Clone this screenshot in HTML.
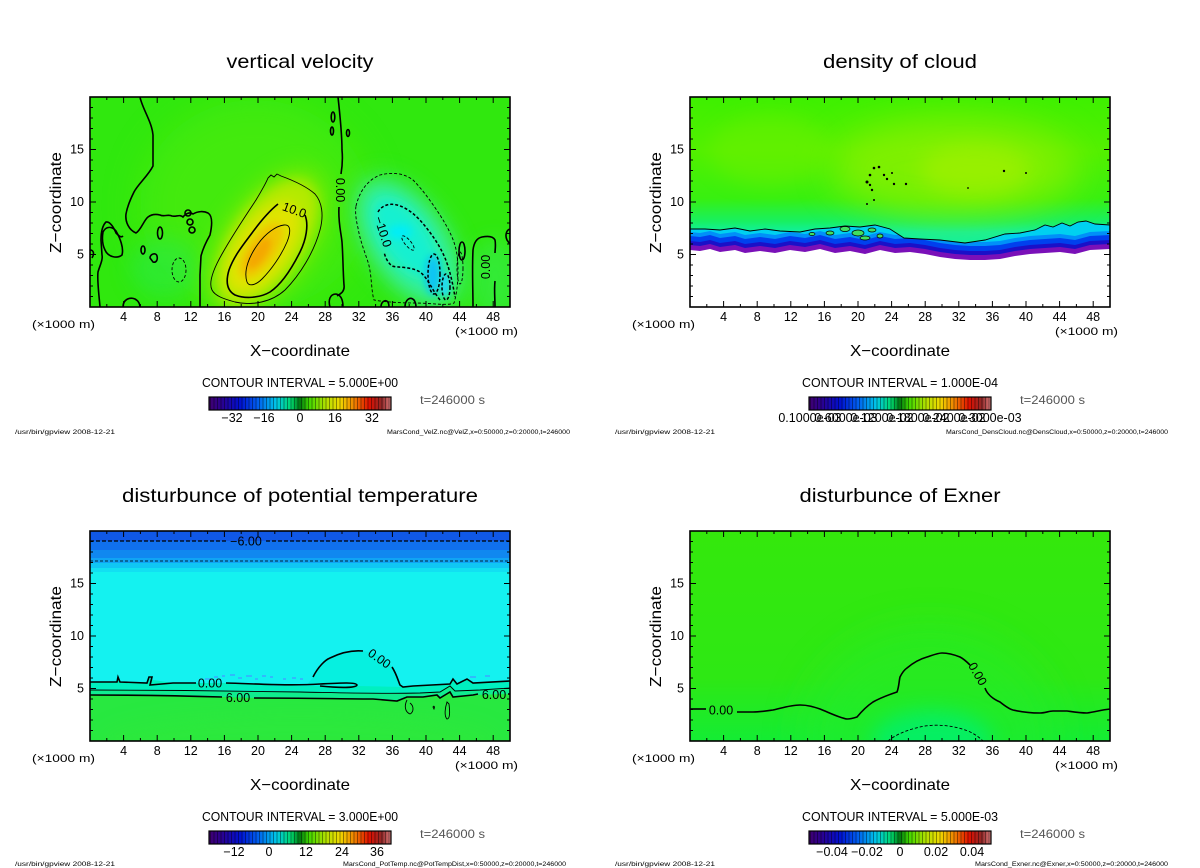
<!DOCTYPE html>
<html><head><meta charset="utf-8"><style>
html,body{margin:0;padding:0;background:#fff;}
svg{display:block;}
text{font-family:"Liberation Sans",sans-serif;fill:#000;}
</style></head><body>
<svg width="1200" height="868" viewBox="0 0 1200 868" xmlns="http://www.w3.org/2000/svg">
<defs>
<linearGradient id="cb" x1="0" x2="1" y1="0" y2="0">
 <stop offset="0" stop-color="#400070"/>
 <stop offset="0.07" stop-color="#2a0090"/>
 <stop offset="0.17" stop-color="#0010d0"/>
 <stop offset="0.27" stop-color="#0060f0"/>
 <stop offset="0.37" stop-color="#00c8e8"/>
 <stop offset="0.45" stop-color="#00d870"/>
 <stop offset="0.5" stop-color="#007a10"/>
 <stop offset="0.55" stop-color="#40d800"/>
 <stop offset="0.64" stop-color="#b0e000"/>
 <stop offset="0.72" stop-color="#f0d800"/>
 <stop offset="0.8" stop-color="#f08000"/>
 <stop offset="0.88" stop-color="#e01000"/>
 <stop offset="0.95" stop-color="#902828"/>
 <stop offset="1" stop-color="#e08080"/>
</linearGradient>
<pattern id="st" x="0" y="0" width="3.5" height="20" patternUnits="userSpaceOnUse">
 <rect x="0" y="0" width="1" height="20" fill="#000" fill-opacity="0.4"/>
</pattern>
<linearGradient id="g2" gradientUnits="userSpaceOnUse" x1="0" y1="97" x2="0" y2="232">
 <stop offset="0" stop-color="#3ef000"/>
 <stop offset="0.4" stop-color="#52f000"/>
 <stop offset="0.75" stop-color="#38f010"/>
 <stop offset="0.92" stop-color="#18f060"/>
 <stop offset="1" stop-color="#10f0a0"/>
</linearGradient>
<linearGradient id="g4" gradientUnits="userSpaceOnUse" x1="0" y1="531" x2="0" y2="741">
 <stop offset="0" stop-color="#34e80c"/>
 <stop offset="0.7" stop-color="#2ee814"/>
 <stop offset="1" stop-color="#14ec34"/>
</linearGradient>
<filter id="f3" x="-50%" y="-50%" width="200%" height="200%"><feGaussianBlur stdDeviation="3"/></filter>
<filter id="f4" x="-50%" y="-50%" width="200%" height="200%"><feGaussianBlur stdDeviation="4"/></filter>
<filter id="f6" x="-50%" y="-50%" width="200%" height="200%"><feGaussianBlur stdDeviation="6"/></filter>
<filter id="f8" x="-50%" y="-50%" width="200%" height="200%"><feGaussianBlur stdDeviation="8"/></filter>
<filter id="f10" x="-50%" y="-50%" width="200%" height="200%"><feGaussianBlur stdDeviation="10"/></filter>
<filter id="f18" x="-50%" y="-50%" width="200%" height="200%"><feGaussianBlur stdDeviation="18"/></filter>
<clipPath id="c1"><rect x="90" y="97" width="420" height="210"/></clipPath>
<clipPath id="c2"><rect x="690" y="97" width="420" height="210"/></clipPath>
<clipPath id="c3"><rect x="90" y="531" width="420" height="210"/></clipPath>
<clipPath id="c4"><rect x="690" y="531" width="420" height="210"/></clipPath>
<clipPath id="c2g"><polygon points="690,97 1110,97 1110,225 1095,224 1086,221 1078,222 1070,226 1062,223 1053,227 1045,225 1035,230 1020,233 1005,234 985,240 965,243 940,240 920,239 904,238 890,229 875,225 860,227 845,226 830,228 815,229 800,232 780,231 765,229 750,231 735,228 720,230 705,229 690,229"/></clipPath>

<g id="ax">
<path fill="none" stroke="#000" stroke-width="1" d="M106.8 97v3M140.4 97v3M174 97v3M207.6 97v3M241.2 97v3M274.8 97v3M308.4 97v3M342 97v3M375.6 97v3M409.2 97v3M442.8 97v3M476.4 97v3M123.6 97v6M157.2 97v6M190.8 97v6M224.4 97v6M258 97v6M291.6 97v6M325.2 97v6M358.8 97v6M392.4 97v6M426 97v6M459.6 97v6M493.2 97v6M106.8 307v-3M140.4 307v-3M174 307v-3M207.6 307v-3M241.2 307v-3M274.8 307v-3M308.4 307v-3M342 307v-3M375.6 307v-3M409.2 307v-3M442.8 307v-3M476.4 307v-3M123.6 307v-6M157.2 307v-6M190.8 307v-6M224.4 307v-6M258 307v-6M291.6 307v-6M325.2 307v-6M358.8 307v-6M392.4 307v-6M426 307v-6M459.6 307v-6M493.2 307v-6M90 296.5h3M90 286h3M90 275.5h3M90 265h3M90 244h3M90 233.5h3M90 223h3M90 212.5h3M90 191.5h3M90 181h3M90 170.5h3M90 160h3M90 139h3M90 128.5h3M90 118h3M90 107.5h3M90 254.5h6M90 202h6M90 149.5h6M510 296.5h-3M510 286h-3M510 275.5h-3M510 265h-3M510 244h-3M510 233.5h-3M510 223h-3M510 212.5h-3M510 191.5h-3M510 181h-3M510 170.5h-3M510 160h-3M510 139h-3M510 128.5h-3M510 118h-3M510 107.5h-3M510 254.5h-6M510 202h-6M510 149.5h-6"/>
<rect x="90" y="97" width="420" height="210" fill="none" stroke="#000" stroke-width="1.6"/>
<g font-size="12.5" text-anchor="end"><text x="84" y="258.5">5</text><text x="84" y="206">10</text><text x="84" y="153.5">15</text></g>
<g font-size="12.5" text-anchor="middle">
<text x="123.6" y="321">4</text><text x="157.2" y="321">8</text><text x="190.8" y="321">12</text><text x="224.4" y="321">16</text><text x="258" y="321">20</text><text x="291.6" y="321">24</text><text x="325.2" y="321">28</text><text x="358.8" y="321">32</text><text x="392.4" y="321">36</text><text x="426" y="321">40</text><text x="459.6" y="321">44</text><text x="493.2" y="321">48</text>
</g>
<text x="32" y="328" font-size="11" textLength="63" lengthAdjust="spacingAndGlyphs">(×1000 m)</text>
<text x="455" y="335" font-size="11" textLength="63" lengthAdjust="spacingAndGlyphs">(×1000 m)</text>
<text x="300" y="356" font-size="16" text-anchor="middle" textLength="100" lengthAdjust="spacingAndGlyphs">X−coordinate</text>
<text transform="translate(61,202.5) rotate(-90)" font-size="16" text-anchor="middle" textLength="101" lengthAdjust="spacingAndGlyphs">Z−coordinate</text>
<text x="420" y="404" font-size="12" fill="#555" style="fill:#555" textLength="65" lengthAdjust="spacingAndGlyphs">t=246000 s</text>
<rect x="209" y="397" width="182" height="13" fill="url(#cb)"/>
<rect x="209" y="397" width="182" height="13" fill="url(#st)"/>
<rect x="209" y="397" width="182" height="13" fill="none" stroke="#000" stroke-width="1.2"/>
</g>
</defs>

<!-- ========== PANEL 1: vertical velocity ========== -->
<g clip-path="url(#c1)">
<rect x="90" y="97" width="420" height="210" fill="#30e80e"/>
<ellipse cx="255" cy="205" rx="115" ry="105" fill="#52ec0c" opacity="0.55" filter="url(#f18)"/>
<ellipse cx="165" cy="268" rx="35" ry="30" fill="#28ea50" opacity="0.5" filter="url(#f10)"/>
<ellipse cx="495" cy="280" rx="25" ry="40" fill="#36ec50" opacity="0.6" filter="url(#f10)"/>
<g transform="translate(267,242) rotate(35)">
<ellipse rx="46" ry="86" fill="#7aec04" opacity="0.8" filter="url(#f10)"/>
<ellipse rx="36" ry="72" fill="#b4ea00" filter="url(#f6)"/>
<ellipse cy="6" rx="25" ry="52" fill="#e0e400" filter="url(#f6)"/>
<ellipse cy="10" rx="14" ry="32" fill="#f0c400" filter="url(#f4)"/>
<ellipse cy="14" rx="7" ry="18" fill="#f4a800" filter="url(#f3)"/>
</g>
<g transform="translate(408,242) rotate(-35)">
<ellipse rx="44" ry="78" fill="#3aec70" opacity="0.7" filter="url(#f10)"/>
<ellipse rx="34" ry="66" fill="#30f0a0" filter="url(#f8)"/>
<ellipse cy="-5" rx="22" ry="46" fill="#18f0d0" filter="url(#f6)"/>
</g>
<ellipse cx="400" cy="232" rx="12" ry="7" fill="#00eef8" filter="url(#f4)"/>
<ellipse cx="433" cy="275" rx="8" ry="20" fill="#10c4f4" filter="url(#f4)"/>
<ellipse cx="445" cy="285" rx="5" ry="12" fill="#20d8f0" filter="url(#f3)"/>
<!-- contours -->
<g fill="none" stroke="#000" stroke-width="1.6">
<path d="M140,97 C142,108 152,122 153,135 L153,166 C148,176 138,184 134,192 C130,200 127,208 126,214 C125,222 129,230 136,233 C141,230 144,220 148,217 C152,214 156,214 160,215 C164,217 168,214 172,216 C176,217 180,214 183,217 C186,213 190,212 193,214 C198,211 204,211 208,213 C213,216 212,226 210,235 C206,242 203,248 201,256 L200,275 L200,307"/>
<path d="M100,307 C99,295 97,280 98,272 C100,265 103,260 102,255 L101,240 C101,232 102,226 106,222 C110,221 114,228 116,233 C119,236 121,238 123,236"/>
<path d="M103,232 C106,226 112,226 116,231 C120,238 124,248 122,255 C117,259 108,257 105,250 C102,244 102,238 103,232Z"/>
<path d="M90,250 C93,250 95,253 92,258"/>
<path d="M123,307 C123,299 130,297 135,299 C139,301 140,305 140,307"/>
<ellipse cx="160" cy="233" rx="2.5" ry="6"/>
<path d="M150,258 C150,254 156,252 157,256 C158,260 156,263 153,262Z"/>
<ellipse cx="143" cy="250" rx="2" ry="4"/>
<ellipse cx="188" cy="213" rx="3" ry="3"/>
<ellipse cx="190" cy="222" rx="3" ry="3"/>
<ellipse cx="192" cy="230" rx="3" ry="3"/>
<path d="M338,97 C340,115 342,135 342,150 C343,160 342,168 341,174"/>
<path d="M339,207 C338,222 341,232 342,242 C343,255 343,272 344,285 C345,292 340,294 337,296"/>
<path d="M330,307 C328,300 330,294 336,294 C341,295 343,300 343,307"/>
<ellipse cx="333" cy="117" rx="1.8" ry="5"/>
<ellipse cx="332" cy="131" rx="1.5" ry="4"/>
<ellipse cx="348" cy="133" rx="1.5" ry="3.5"/>
<path d="M473,307 C473,290 472,270 473,250 C474,242 477,238 482,237 C487,236 493,236 495,240 C496,245 495,250 495,253"/>
<path d="M495,281 C494,290 495,298 495,307"/>
<path d="M510,229 C506,230 505,236 507,240 C509,243 510,244 510,244"/>
<ellipse cx="462" cy="251" rx="3" ry="9"/>
<path d="M381,307 C381,302 385,299 388,302 C389,304 389,306 389,307"/>
<path d="M405,307 C405,300 410,296 414,300 C416,303 416,306 416,307"/>
<path d="M305,215 C309,225 306,240 300,252 C292,268 282,284 270,292 C260,298 245,299 235,295 C226,290 226,280 229,270 C234,256 243,245 252,233 C260,222 268,212 278,204"/>
</g>
<g fill="none" stroke="#000" stroke-width="0.9">
<path d="M212,290 C208,282 214,268 222,254 C232,236 244,218 256,200 C262,190 266,183 268,178 L271,175 L274,177 L277,174 L281,176 C292,180 306,186 315,194 C322,202 324,215 320,230 C314,252 300,275 285,290 C272,302 252,306 235,302 C224,299 215,296 212,290Z"/>
<path d="M247,282 C243,270 250,255 258,244 C266,233 276,226 284,225 C291,224 291,232 287,242 C281,256 271,270 262,279 C256,285 249,287 247,282Z"/>
</g>
<g fill="none" stroke="#000" stroke-width="0.9" stroke-dasharray="3,2">
<path d="M356,206 C360,190 368,180 380,175 C392,172 404,173 413,180 C423,190 432,203 440,215 C448,228 455,240 457,255 C459,270 458,290 454,303 C448,306 430,303 415,303 C400,303 385,302 374,300 C371,290 372,275 368,262 C364,250 360,240 358,228 C356,220 355,212 356,206Z"/>
<ellipse cx="179" cy="270" rx="7" ry="12"/>
<ellipse cx="408" cy="243" rx="3" ry="9" transform="rotate(-40 408 243)"/>
<ellipse cx="460" cy="268" rx="3" ry="16"/>
</g>
<g fill="none" stroke="#000" stroke-width="1.5" stroke-dasharray="3,2">
<path d="M378,212 C382,205 390,203 397,205 C408,208 417,216 425,226 C433,236 440,246 445,258 C450,270 453,285 455,297"/>
<path d="M440,300 C432,290 428,278 420,272 C410,266 398,268 392,266 C387,262 385,256 384,252"/>
<ellipse cx="434" cy="274" rx="6" ry="20"/>
<ellipse cx="446" cy="287" rx="4" ry="13"/>
</g>
</g>
<g font-size="12.5">
<text transform="translate(293,214) rotate(20)" text-anchor="middle">10.0</text>
<text transform="translate(336,190) rotate(90)" text-anchor="middle">0.00</text>
<text transform="translate(490,267) rotate(-90)" text-anchor="middle">0.00</text>
<text transform="translate(379,233) rotate(72)" text-anchor="middle">−10.0</text>
</g>
<use href="#ax"/>
<text x="300" y="68" font-size="19" text-anchor="middle" textLength="147" lengthAdjust="spacingAndGlyphs">vertical velocity</text>
<text x="300" y="387" font-size="12.5" text-anchor="middle" textLength="196" lengthAdjust="spacingAndGlyphs">CONTOUR INTERVAL = 5.000E+00</text>
<g font-size="12.5" text-anchor="middle">
<text x="232" y="422">−32</text><text x="264" y="422">−16</text><text x="300" y="422">0</text><text x="335" y="422">16</text><text x="372" y="422">32</text>
</g>
<text x="15" y="434" font-size="6.5" textLength="100" lengthAdjust="spacingAndGlyphs">/usr/bin/gpview   2008-12-21</text>
<text x="570" y="434" font-size="6.5" text-anchor="end" textLength="183" lengthAdjust="spacingAndGlyphs">MarsCond_VelZ.nc@VelZ,x=0:50000,z=0:20000,t=246000</text>

<!-- ========== PANEL 2: density of cloud ========== -->
<g clip-path="url(#c2)">
<rect x="690" y="97" width="420" height="210" fill="#fff"/>
<g>
<polygon fill="#7a10b8" points="690,229 705,229 720,230 735,228 750,231 765,229 780,231 800,232 815,229 830,228 845,226 860,227 875,225 890,229 904,238 920,239 940,240 965,243 985,240 1005,234 1020,233 1035,230 1045,225 1053,227 1062,223 1070,226 1078,222 1086,221 1095,224 1110,225 1110,249 1090,250 1075,254 1060,252 1045,253 1030,254 1015,256 1000,259 985,260 970,260 955,259 940,257 925,254 910,252 895,253 880,250 865,254 850,251 835,253 820,249 805,252 790,250 775,253 760,251 745,253 735,250 720,252 710,249 700,251 690,250"/>
<polygon fill="#1a10c8" transform="translate(0,-5)" points="690,229 705,229 720,230 735,228 750,231 765,229 780,231 800,232 815,229 830,228 845,226 860,227 875,225 890,229 904,238 920,239 940,240 965,243 985,240 1005,234 1020,233 1035,230 1045,225 1053,227 1062,223 1070,226 1078,222 1086,221 1095,224 1110,225 1110,249 1090,250 1075,254 1060,252 1045,253 1030,254 1015,256 1000,259 985,260 970,260 955,259 940,257 925,254 910,252 895,253 880,250 865,254 850,251 835,253 820,249 805,252 790,250 775,253 760,251 745,253 735,250 720,252 710,249 700,251 690,250"/>
<polygon fill="#0040ee" transform="translate(0,-9)" points="690,229 705,229 720,230 735,228 750,231 765,229 780,231 800,232 815,229 830,228 845,226 860,227 875,225 890,229 904,238 920,239 940,240 965,243 985,240 1005,234 1020,233 1035,230 1045,225 1053,227 1062,223 1070,226 1078,222 1086,221 1095,224 1110,225 1110,249 1090,250 1075,254 1060,252 1045,253 1030,254 1015,256 1000,259 985,260 970,260 955,259 940,257 925,254 910,252 895,253 880,250 865,254 850,251 835,253 820,249 805,252 790,250 775,253 760,251 745,253 735,250 720,252 710,249 700,251 690,250"/>
<polygon fill="#0090f8" transform="translate(0,-14)" points="690,229 705,229 720,230 735,228 750,231 765,229 780,231 800,232 815,229 830,228 845,226 860,227 875,225 890,229 904,238 920,239 940,240 965,243 985,240 1005,234 1020,233 1035,230 1045,225 1053,227 1062,223 1070,226 1078,222 1086,221 1095,224 1110,225 1110,249 1090,250 1075,254 1060,252 1045,253 1030,254 1015,256 1000,259 985,260 970,260 955,259 940,257 925,254 910,252 895,253 880,250 865,254 850,251 835,253 820,249 805,252 790,250 775,253 760,251 745,253 735,250 720,252 710,249 700,251 690,250"/>
<polygon fill="#00d0f0" transform="translate(0,-18)" points="690,229 705,229 720,230 735,228 750,231 765,229 780,231 800,232 815,229 830,228 845,226 860,227 875,225 890,229 904,238 920,239 940,240 965,243 985,240 1005,234 1020,233 1035,230 1045,225 1053,227 1062,223 1070,226 1078,222 1086,221 1095,224 1110,225 1110,249 1090,250 1075,254 1060,252 1045,253 1030,254 1015,256 1000,259 985,260 970,260 955,259 940,257 925,254 910,252 895,253 880,250 865,254 850,251 835,253 820,249 805,252 790,250 775,253 760,251 745,253 735,250 720,252 710,249 700,251 690,250"/>
</g>
<polygon fill="url(#g2)" points="690,97 1110,97 1110,225 1095,224 1086,221 1078,222 1070,226 1062,223 1053,227 1045,225 1035,230 1020,233 1005,234 985,240 965,243 940,240 920,239 904,238 890,229 875,225 860,227 845,226 830,228 815,229 800,232 780,231 765,229 750,231 735,228 720,230 705,229 690,229"/>
<g clip-path="url(#c2g)">
<ellipse cx="955" cy="168" rx="125" ry="50" fill="#90f000" opacity="0.75" filter="url(#f18)"/>
<ellipse cx="975" cy="170" rx="55" ry="25" fill="#a8f000" opacity="0.6" filter="url(#f10)"/>
<ellipse cx="770" cy="150" rx="60" ry="35" fill="#70f000" opacity="0.5" filter="url(#f10)"/>
</g>
<polyline fill="none" stroke="#000" stroke-width="0.9" points="690,229 705,229 720,230 735,228 750,231 765,229 780,231 800,232 815,229 830,228 845,226 860,227 875,225 890,229 904,238 920,239 940,240 965,243 985,240 1005,234 1020,233 1035,230 1045,225 1053,227 1062,223 1070,226 1078,222 1086,221 1095,224 1110,225"/>
<g fill="#40e060" stroke="#000" stroke-width="0.7">
<ellipse cx="830" cy="233" rx="4" ry="2"/>
<ellipse cx="845" cy="229" rx="5" ry="2.5"/>
<ellipse cx="858" cy="233" rx="6" ry="3"/>
<ellipse cx="872" cy="230" rx="4" ry="2"/>
<ellipse cx="880" cy="236" rx="3" ry="2"/>
<ellipse cx="865" cy="238" rx="5" ry="2"/>
<ellipse cx="812" cy="234" rx="3" ry="1.5"/>
</g>
<g fill="#000">
<circle cx="874" cy="168" r="1.3"/><circle cx="879" cy="167" r="1.3"/><circle cx="870" cy="175" r="1.3"/><circle cx="867" cy="182" r="1.5"/><circle cx="870" cy="185" r="1.2"/><circle cx="872" cy="190" r="1.2"/><circle cx="874" cy="200" r="1"/><circle cx="867" cy="204" r="1"/><circle cx="884" cy="175" r="1.2"/><circle cx="887" cy="179" r="1.2"/><circle cx="894" cy="184" r="1.2"/><circle cx="892" cy="173" r="1"/><circle cx="906" cy="184" r="1.2"/><circle cx="1004" cy="171" r="1.2"/><circle cx="1026" cy="173" r="1"/><circle cx="968" cy="188" r="0.9"/>
</g>
</g>
<use href="#ax" transform="translate(600,0)"/>
<text x="900" y="68" font-size="19" text-anchor="middle" textLength="154" lengthAdjust="spacingAndGlyphs">density of cloud</text>
<text x="900" y="387" font-size="12.5" text-anchor="middle" textLength="196" lengthAdjust="spacingAndGlyphs">CONTOUR INTERVAL = 1.000E-04</text>
<g font-size="12.5" text-anchor="middle">
<text x="810" y="422">0.1000e-03</text><text x="846" y="422">0.6000e-03</text><text x="882" y="422">0.1200e-02</text><text x="918" y="422">0.1800e-02</text><text x="954" y="422">0.2400e-02</text><text x="990" y="422">0.3000e-03</text>
</g>
<text x="615" y="434" font-size="6.5" textLength="100" lengthAdjust="spacingAndGlyphs">/usr/bin/gpview   2008-12-21</text>
<text x="1168" y="434" font-size="6.5" text-anchor="end" textLength="222" lengthAdjust="spacingAndGlyphs">MarsCond_DensCloud.nc@DensCloud,x=0:50000,z=0:20000,t=246000</text>

<!-- ========== PANEL 3: potential temperature ========== -->
<g clip-path="url(#c3)">
<rect x="90" y="531" width="420" height="210" fill="#14f2f0"/>
<rect x="90" y="531" width="420" height="10" fill="#1058e6"/>
<rect x="90" y="541" width="420" height="9" fill="#1070ee"/>
<rect x="90" y="550" width="420" height="8" fill="#1088f0"/>
<rect x="90" y="558" width="420" height="5" fill="#10a4f4"/>
<rect x="90" y="563" width="420" height="5" fill="#10c6f4"/>
<rect x="90" y="568" width="420" height="4" fill="#12e0f2"/>
<path fill="#06f0e0" d="M90,682 L117,682 L118,678 L120,682 L147,683 L150,678 L153,680 L173,683 L193,683 L227,683 L257,684 L273,686 L307,685 L313,677 C318,667 325,660 330,658 C340,653 352,650 363,651 C375,652 388,660 393,668 C396,673 398,680 400,685 L403,687 L413,686 L450,684 L453,680 L457,684 L467,679 L473,683 L510,681 L510,741 L90,741Z"/>
<path fill="#00f0c0" d="M90,682 L117,682 L118,678 L120,682 L147,683 L150,678 L153,680 L173,683 L193,683 L227,683 L257,684 L273,686 L320,686 L357,686 L403,687 L413,686 L450,684 L453,680 L457,684 L467,679 L473,683 L510,681 L510,741 L90,741Z"/>
<path fill="#10ec90" d="M90,690 C150,690 250,691 300,692 C350,693 380,694 420,693 L440,692 L450,686 L455,691 L480,690 L510,688 L510,741 L90,741Z"/>
<path fill="#28e840" d="M90,695 C150,695 190,696 222,697 L254,698 C300,698 350,699 373,699 L397,701 L407,697 L423,697 L437,695 L440,698 L450,692 L453,697 L473,695 L510,694 L510,741 L90,741Z"/>
<ellipse cx="300" cy="741" rx="200" ry="30" fill="#30ea38" opacity="0.4" filter="url(#f10)"/>
<g fill="none" stroke="#3aa8ff" stroke-width="1.6">
<path d="M205,679 h6 M214,677 h4 M222,676 h3 M230,675 h5 M238,678 h4 M246,676 h6 M255,679 h3 M262,676 h4 M270,677 h3 M283,679 h3 M292,678 h4 M300,679 h3 M470,677 h6 M485,676 h5"/>
</g>
<g fill="none" stroke="#000" stroke-width="1.6">
<path d="M90,682 L117,682 L118,677 L120,682 L147,683 L149,677 L152,677 L150,685 L173,683 L196,683"/>
<path d="M226,683 C260,684 290,686 320,684 C340,683 356,682 357,685 C356,688 340,688 320,686"/>
<path d="M313,677 C318,667 325,660 330,658 C340,653 352,650 363,651"/>
<path d="M392,667 C396,673 398,680 400,685 L403,687 L413,686 L450,684 L453,679 L457,684 L467,679 L473,683 L510,681"/>
<path d="M90,695 C150,695 190,696 222,697"/>
<path d="M254,698 C300,698 350,699 373,699 L397,701 L407,697 L423,697 L437,695 L440,698 L450,692 L453,697 L473,695 L478,694"/>
<path d="M508,694 L510,694"/>
</g>
<g fill="none" stroke="#000" stroke-width="0.9">
<path d="M90,690 C150,690 250,691 300,692 C350,693 380,694 420,693 L440,692 L450,686 L455,691 L480,690 L510,688"/>
<path d="M407,700 C404,706 405,712 410,714 C414,712 414,706 410,703"/>
<path d="M447,702 C445,708 444,716 447,719 C450,719 450,712 449,704Z"/>
<path d="M433,707 c1,-2 2,0 1,2z"/>
</g>
<path d="M90,541 L226,541 M266,541 L510,541" fill="none" stroke="#000" stroke-width="1.3" stroke-dasharray="4,2"/>
<path d="M90,561 L510,561" fill="none" stroke="#000" stroke-width="0.8" stroke-dasharray="3,2"/>
</g>
<use href="#ax" transform="translate(0,434)"/>
<g font-size="12.5">
<text x="246" y="545.5" text-anchor="middle">−6.00</text>
<text x="210" y="687.5" text-anchor="middle">0.00</text>
<text x="238" y="702" text-anchor="middle">6.00</text>
<text x="494" y="699" text-anchor="middle">6.00</text>
<text transform="translate(377,662) rotate(35)" text-anchor="middle">0.00</text>
</g>
<text x="300" y="502" font-size="19" text-anchor="middle" textLength="356" lengthAdjust="spacingAndGlyphs">disturbunce of potential temperature</text>
<text x="300" y="821" font-size="12.5" text-anchor="middle" textLength="196" lengthAdjust="spacingAndGlyphs">CONTOUR INTERVAL = 3.000E+00</text>
<g font-size="12.5" text-anchor="middle">
<text x="234" y="856">−12</text><text x="269" y="856">0</text><text x="306" y="856">12</text><text x="342" y="856">24</text><text x="377" y="856">36</text>
</g>
<text x="15" y="866" font-size="6.5" textLength="100" lengthAdjust="spacingAndGlyphs">/usr/bin/gpview   2008-12-21</text>
<text x="566" y="866" font-size="6.5" text-anchor="end" textLength="223" lengthAdjust="spacingAndGlyphs">MarsCond_PotTemp.nc@PotTempDist,x=0:50000,z=0:20000,t=246000</text>

<!-- ========== PANEL 4: Exner ========== -->
<g clip-path="url(#c4)">
<rect x="690" y="531" width="420" height="210" fill="url(#g4)"/>
<ellipse cx="930" cy="741" rx="130" ry="115" fill="#22ec2c" opacity="0.55" filter="url(#f18)"/>
<ellipse cx="932" cy="741" rx="60" ry="30" fill="#00f070" opacity="0.8" filter="url(#f10)"/>
<g fill="none" stroke="#000" stroke-width="1.6">
<path d="M690,709 L706,709"/>
<path d="M737,712 L753,712 C760,712 766,711 773,710 C782,708 791,705 800,705 C808,705 814,707 820,709 C830,713 840,718 847,719 C851,719 854,718 857,717 C862,711 867,706 873,702 C882,697 891,694 897,692 C899,687 899,681 900,677 C902,673 904,670 907,668 C914,662 920,659 927,657 C933,655 938,653 942,653 C948,653 955,655 960,657 C964,659 967,662 970,665"/>
<path d="M985,688 C987,694 993,699 1000,702 C1005,706 1009,709 1013,710 C1022,712 1031,713 1040,713 C1045,713 1049,711 1053,711 C1058,711 1063,711 1067,711 C1074,712 1080,713 1087,713 C1095,712 1101,710 1110,709"/>
</g>
<path d="M888,741 C895,735 908,729 925,726 C940,724 955,726 968,731 C975,734 980,738 983,741" fill="none" stroke="#000" stroke-width="0.9" stroke-dasharray="3,2"/>
</g>
<use href="#ax" transform="translate(600,434)"/>
<g font-size="12.5">
<text x="721" y="714.5" text-anchor="middle">0.00</text>
<text transform="translate(974,676) rotate(60)" text-anchor="middle">0.00</text>
</g>
<text x="900" y="502" font-size="19" text-anchor="middle" textLength="201" lengthAdjust="spacingAndGlyphs">disturbunce of Exner</text>
<text x="900" y="821" font-size="12.5" text-anchor="middle" textLength="196" lengthAdjust="spacingAndGlyphs">CONTOUR INTERVAL = 5.000E-03</text>
<g font-size="12.5" text-anchor="middle">
<text x="832" y="856">−0.04</text><text x="867" y="856">−0.02</text><text x="900" y="856">0</text><text x="936" y="856">0.02</text><text x="972" y="856">0.04</text>
</g>
<text x="615" y="866" font-size="6.5" textLength="100" lengthAdjust="spacingAndGlyphs">/usr/bin/gpview   2008-12-21</text>
<text x="1168" y="866" font-size="6.5" text-anchor="end" textLength="193" lengthAdjust="spacingAndGlyphs">MarsCond_Exner.nc@Exner,x=0:50000,z=0:20000,t=246000</text>
</svg>
</body></html>
